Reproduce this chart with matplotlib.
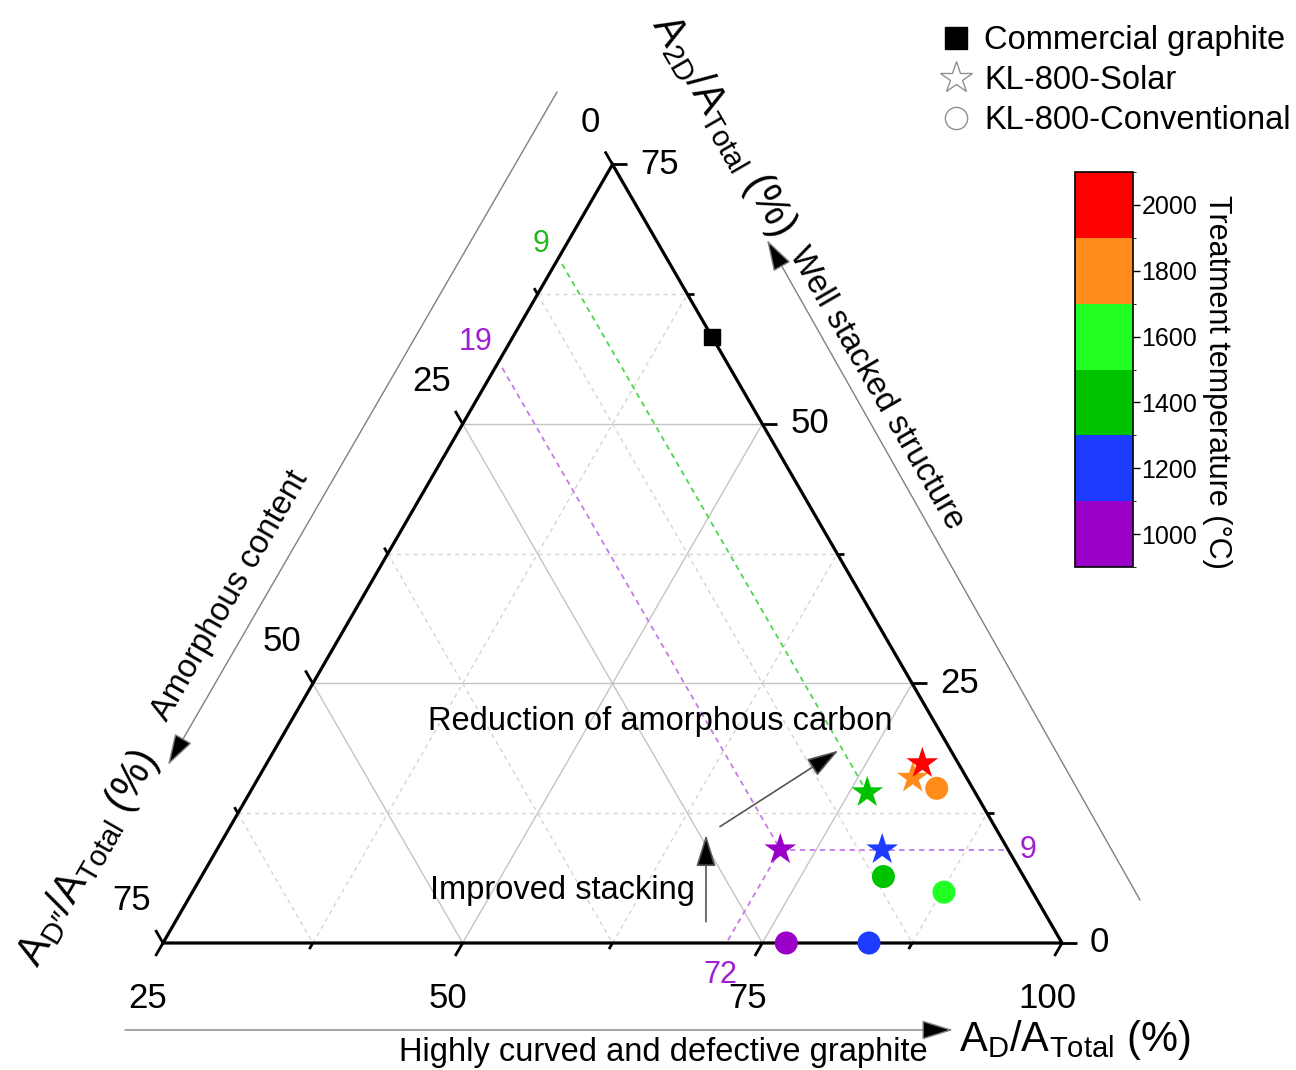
import numpy as np
import matplotlib
matplotlib.use('Agg')
import matplotlib.pyplot as plt
from matplotlib.colors import ListedColormap, BoundaryNorm
from matplotlib.cm import ScalarMappable
from matplotlib.lines import Line2D

plt.rcParams['font.family'] = ['Liberation Sans', 'DejaVu Sans']
plt.rcParams['mathtext.default'] = 'regular'

# ---------------- data (A_D %, A_2D %; A_D'' = 100 - both) ----------------
solar_D = [72.0, 80.5, 76.5, 79.6, 79.7]
solar_2D = [9.0, 9.0, 14.5, 15.9, 17.3]
solar_temp = [1000, 1200, 1400, 1800, 2000]

conv_D = [77.0, 83.9, 81.9, 87.7, 82.1]
conv_2D = [0.0, 0.0, 6.4, 4.9, 14.9]
conv_temp = [1000, 1200, 1400, 1600, 1800]

graphite_D = [41.6]
graphite_2D = [58.4]

temp_bounds = [900, 1100, 1300, 1500, 1700, 1900, 2100]
temp_ticks = [1000, 1200, 1400, 1600, 1800, 2000]
temp_colors = ['#9B00C8', '#1E3CFF', '#00C300', '#22FF22', '#FF8C1A', '#FF0000']

D_major = [25, 50, 75, 100]
D_minor = [37.5, 62.5, 87.5]
T_major = [0, 25, 50, 75]
T_minor = [12.5, 37.5, 62.5]
Dpp_major = [0, 25, 50, 75]
Dpp_minor = [12.5, 37.5, 62.5]

legend_labels = ['Commercial graphite', 'KL-800-Solar', 'KL-800-Conventional']

# ---------------- geometry ----------------
SQ = np.sqrt(3) / 2
S = 1 / 899.0  # one reference pixel in data units


def tern(D, T):
    D = np.asarray(D, dtype=float)
    T = np.asarray(T, dtype=float)
    a = (D - 25.0) / 75.0
    b = T / 75.0
    return a + b / 2.0, b * SQ


def P(px, py):
    return ((px - 163) * S, (943 - py) * S)


fig = plt.figure(figsize=(12.96, 10.70), dpi=100)
ax = fig.add_axes([0, 0, 1, 1])
ax.set_xlim(-163 * S, (1296 - 163) * S)
ax.set_ylim(-(1070 - 943) * S, 943 * S)
ax.axis('off')

# grid lines
def grid_line(kind, v, **kw):
    if kind == 'T':
        p0 = tern(25, v); p1 = tern(100 - v, v)
    elif kind == 'D':
        p0 = tern(v, 0); p1 = tern(v, 100 - v)
    else:
        p0 = tern(25, 75 - v); p1 = tern(100 - v, 0)
    ax.plot([p0[0], p1[0]], [p0[1], p1[1]], **kw)

major_kw = dict(color='#C4C4C4', lw=1.0, zorder=1)
minor_kw = dict(color='#D4D4D4', lw=1.0, ls=(0, (3, 3)), zorder=1)
for v in [25, 50]:
    grid_line('T', v, **major_kw)
    grid_line('P', v, **major_kw)
for v in [50, 75]:
    grid_line('D', v, **major_kw)
for v in T_minor:
    grid_line('T', v, **minor_kw)
for v in Dpp_minor:
    grid_line('P', v, **minor_kw)
for v in D_minor:
    grid_line('D', v, **minor_kw)

# guide lines
g_green = '#4CD64C'
g_purple = '#C37BEA'
gkw = dict(lw=1.3, ls=(0, (3, 2.5)), zorder=2)
x0, y0 = tern([25.6, solar_D[2]], [100 - 9 - 25.6, solar_2D[2]])
ax.plot(x0, y0, color=g_green, **gkw)
x0, y0 = tern([25.6, solar_D[0]], [100 - 19 - 25.6, solar_2D[0]])
ax.plot(x0, y0, color=g_purple, **gkw)
x0, y0 = tern([solar_D[0], 100 - 9], [9, 9])
ax.plot(x0, y0, color=g_purple, **gkw)
x0, y0 = tern([solar_D[0], 72], [solar_2D[0], 0])
ax.plot(x0, y0, color=g_purple, **gkw)

# triangle
tx, ty = tern([25, 100, 25, 25], [0, 0, 75, 0])
ax.plot(tx, ty, color='black', lw=2.3, zorder=4, solid_joinstyle='miter')

# ticks
dirs = {'D': (-0.5, -SQ), 'T': (1.0, 0.0), 'P': (-0.5, SQ)}
def tick(kind, v, L):
    if kind == 'D':
        p = tern(v, 0)
    elif kind == 'T':
        p = tern(100 - v, v)
    else:
        p = tern(25, 75 - v)
    dx, dy = dirs[kind]
    ax.plot([p[0], p[0] + dx * L], [p[1], p[1] + dy * L], color='black', lw=2.0, zorder=4,
            solid_capstyle='butt')
    return p

tfs = 25
for v in D_major:
    p = tick('D', v, 15 * S)
    ax.text(p[0] - 15 * S, p[1] - 55 * S, f'{v:g}', ha='center', va='center', fontsize=tfs)
for v in D_minor:
    tick('D', v, 7 * S)
for v in T_major:
    p = tick('T', v, 15 * S)
    ax.text(p[0] + 28 * S, p[1], f'{v:g}', ha='left', va='center', fontsize=tfs)
for v in T_minor:
    tick('T', v, 7 * S)
for v in Dpp_major:
    p = tick('P', v, 15 * S)
    ax.text(p[0] - 12 * S, p[1] + 42 * S, f'{v:g}', ha='right', va='center', fontsize=tfs)
for v in Dpp_minor:
    tick('P', v, 7 * S)

# guide value labels
gfs = 22
p = tern(25, 75 - 9)
ax.text(p[0] - 9 * S, p[1] + 14 * S, '9', color='#22B822', ha='right', va='center', fontsize=gfs)
p = tern(25, 75 - 19)
ax.text(p[0] - 6 * S, p[1] + 20 * S, '19', color='#A020D0', ha='right', va='center', fontsize=gfs)
p = tern(100 - 9, 9)
ax.text(p[0] + 12 * S, p[1], '9', color='#A020D0', ha='left', va='center', fontsize=gfs)
p = tern(72, 0)
ax.text(p[0] - 6 * S, p[1] - 32 * S, '72', color='#A020D0', ha='center', va='center', fontsize=gfs)

# data points
cmap = ListedColormap(temp_colors)
norm = BoundaryNorm(temp_bounds, cmap.N)
cx, cy = tern(conv_D, conv_2D)
ax.scatter(cx, cy, c=conv_temp, cmap=cmap, norm=norm, marker='o', s=16.6 ** 2,
           linewidths=0, zorder=6, clip_on=False)
sx, sy = tern(solar_D, solar_2D)
ax.scatter(sx, sy, c=solar_temp, cmap=cmap, norm=norm, marker='*', s=24 ** 2,
           linewidths=0, zorder=7, clip_on=False)
gx, gy = tern(graphite_D, graphite_2D)
ax.plot(gx, gy, 's', color='black', ms=11.5, zorder=7)

# annotations inside
afs = 23.5
p = tern(55.8, 21.3)
ax.text(p[0], p[1], 'Reduction of amorphous carbon', ha='center', va='center', fontsize=afs, zorder=8)
p = tern(55.8, 5.1)
ax.text(p[0], p[1], 'Improved stacking', ha='center', va='center', fontsize=afs, zorder=8)
arr = dict(arrowstyle='-|>,head_length=0.9,head_width=0.28', fc='black', ec='#555555', lw=1.2,
           shrinkA=0, shrinkB=0, mutation_scale=22)
ax.annotate('', xy=tern(72.07, 18.54), xytext=tern(65.86, 11.21), arrowprops=arr, zorder=8)
ax.annotate('', xy=tern(65.1, 10.41), xytext=tern(69.27, 2.05), arrowprops=arr, zorder=8)

# side decorations
side = dict(arrowstyle='-|>,head_length=0.9,head_width=0.28', fc='black', ec='#808080', lw=1.0,
            shrinkA=0, shrinkB=0, mutation_scale=22)
ax.annotate('', xy=P(168, 765), xytext=P(557, 92), arrowprops=side)
ax.annotate('', xy=P(767, 240), xytext=P(1140, 900), arrowprops=side)
ax.annotate('', xy=P(953, 1030), xytext=P(125, 1030), arrowprops=side)
ax.text(*P(230, 596), 'Amorphous content', rotation=60, ha='center', va='center', fontsize=afs)
ax.text(*P(876, 388), 'Well stacked structure', rotation=-60, ha='center', va='center', fontsize=afs)
ax.text(*P(663, 1053), 'Highly curved and defective graphite', ha='center', va='center', fontsize=afs)

# axis titles
titfs = 30
ax.text(*P(1075, 1040), r'$\mathregular{A_D/A_{Total}}$ (%)', ha='center', va='center', fontsize=titfs)
ax.text(*P(723, 125), r'$\mathregular{A_{2D}/A_{Total}}$ (%)', rotation=-60, ha='center', va='center',
        fontsize=titfs)
ax.text(*P(88, 858), '$\\mathregular{A_{D\u2033}/A_{Total}}$ (%)', rotation=60, ha='center', va='center',
        fontsize=titfs)

# colorbar
cax = fig.add_axes([1075 / 1296, (1070 - 567) / 1070, 58 / 1296, 395 / 1070])
cb = fig.colorbar(ScalarMappable(norm=norm, cmap=cmap), cax=cax, ticks=temp_ticks)
cb.outline.set_linewidth(1.2)
cax.tick_params(labelsize=18, length=5, width=1, pad=1, direction='out')
ax.text(*P(1217, 382), 'Treatment temperature (°C)', rotation=270, ha='center', va='center', fontsize=22)

# legend
handles = [
    Line2D([], [], ls='none', marker='s', color='black', ms=16),
    Line2D([], [], ls='none', marker='*', mfc='white', mec='#909090', mew=1.0, ms=24),
    Line2D([], [], ls='none', marker='o', mfc='white', mec='#909090', mew=1.0, ms=16),
]
fig.legend(handles, legend_labels, loc='upper left', bbox_to_anchor=(940 / 1296, 1 - 25 / 1070),
           frameon=False, fontsize=23.5, handlelength=1.0, handletextpad=0.35, labelspacing=0.28,
           borderpad=0, borderaxespad=0)

fig.savefig('out.png', dpi=100)
